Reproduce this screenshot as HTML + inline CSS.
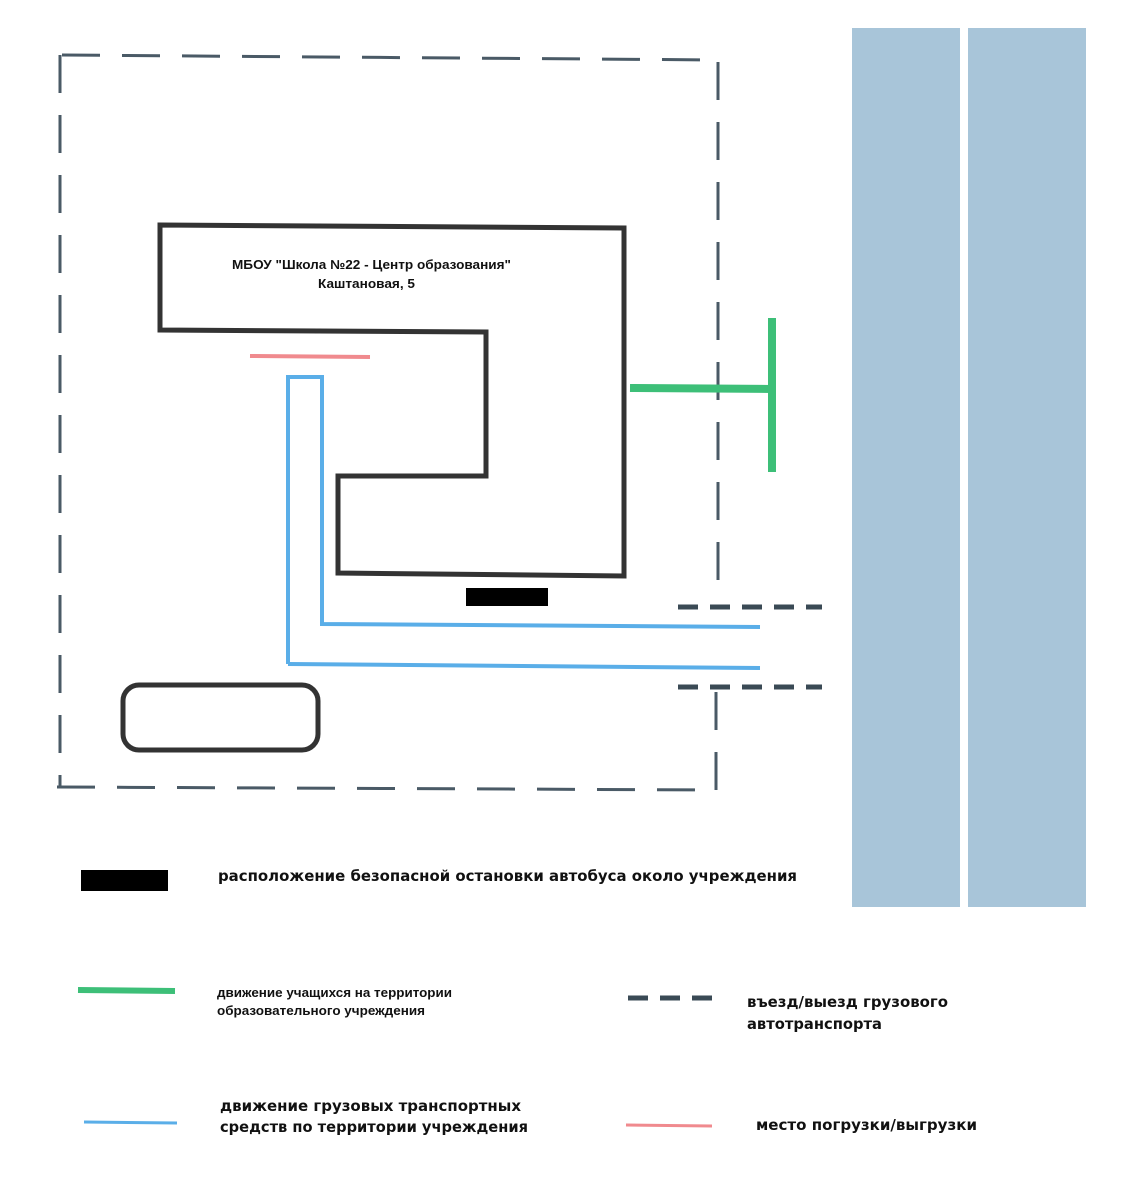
<!DOCTYPE html>
<html><head><meta charset="utf-8"><style>
html,body{margin:0;padding:0;background:#fff;}
svg{display:block}
text{font-family:"DejaVu Sans","Liberation Sans",sans-serif;font-weight:bold;fill:#111}
text.s{font-family:"Liberation Sans",sans-serif}
</style></head><body>
<svg width="1128" height="1200" viewBox="0 0 1128 1200" xmlns="http://www.w3.org/2000/svg">
<rect x="852" y="28" width="108" height="879" fill="#a8c5d9"/>
<rect x="968" y="28" width="118" height="879" fill="#a8c5d9"/>
<g stroke="#4a5a66" stroke-width="3" fill="none" stroke-dasharray="38,22">
<path d="M62 55 L720 60"/>
<path d="M60 55 L60 787"/>
<path d="M57 787 L717 790"/>
<path d="M718 62 L718 600"/>
<path d="M716 692 L716 790"/>
</g>
<path d="M160 225 L624 228 L624 576 L338 573 L338 476 L486 476 L486 332 L160 330 Z" fill="none" stroke="#333" stroke-width="5"/>
<line x1="250" y1="356" x2="370" y2="357" stroke="#f08a8e" stroke-width="4"/>
<path d="M288 664 L288 377 L322 377 L322 624 L760 627" fill="none" stroke="#5aaee8" stroke-width="4"/>
<path d="M288 664 L760 668" fill="none" stroke="#5aaee8" stroke-width="4"/>
<line x1="630" y1="388" x2="772" y2="389" stroke="#3dbf78" stroke-width="8"/>
<line x1="772" y1="318" x2="772" y2="472" stroke="#3dbf78" stroke-width="8"/>
<rect x="466" y="588" width="82" height="18" fill="#000"/>
<g stroke="#3a4a55" stroke-width="5" stroke-dasharray="20,12">
<line x1="678" y1="607" x2="822" y2="607"/>
<line x1="678" y1="687" x2="822" y2="687"/>
<line x1="628" y1="998" x2="716" y2="998"/>
</g>
<rect x="123" y="685" width="195" height="65" rx="16" fill="none" stroke="#333" stroke-width="5"/>
<text class="s" x="232" y="269" font-size="13" textLength="279" lengthAdjust="spacingAndGlyphs">МБОУ "Школа №22 - Центр образования"</text>
<text class="s" x="318" y="288" font-size="13" textLength="97" lengthAdjust="spacingAndGlyphs">Каштановая, 5</text>
<rect x="81" y="870" width="87" height="21" fill="#000"/>
<text x="218" y="881" font-size="15" textLength="579" lengthAdjust="spacingAndGlyphs">расположение безопасной остановки автобуса около учреждения</text>
<line x1="78" y1="990" x2="175" y2="991" stroke="#3dbf78" stroke-width="6"/>
<text class="s" x="217" y="997" font-size="13" textLength="235" lengthAdjust="spacingAndGlyphs">движение учащихся на территории</text>
<text class="s" x="217" y="1015" font-size="13" textLength="208" lengthAdjust="spacingAndGlyphs">образовательного учреждения</text>
<text x="747" y="1007" font-size="15" textLength="201" lengthAdjust="spacingAndGlyphs">въезд/выезд грузового</text>
<text x="747" y="1029" font-size="15" textLength="135" lengthAdjust="spacingAndGlyphs">автотранспорта</text>
<line x1="84" y1="1122" x2="177" y2="1123" stroke="#5aaee8" stroke-width="3"/>
<text x="220" y="1111" font-size="15" textLength="301" lengthAdjust="spacingAndGlyphs">движение грузовых транспортных</text>
<text x="220" y="1132" font-size="15" textLength="308" lengthAdjust="spacingAndGlyphs">средств по территории учреждения</text>
<line x1="626" y1="1125" x2="712" y2="1126" stroke="#f08a8e" stroke-width="3"/>
<text x="756" y="1130" font-size="15" textLength="221" lengthAdjust="spacingAndGlyphs">место погрузки/выгрузки</text>
</svg>
</body></html>
